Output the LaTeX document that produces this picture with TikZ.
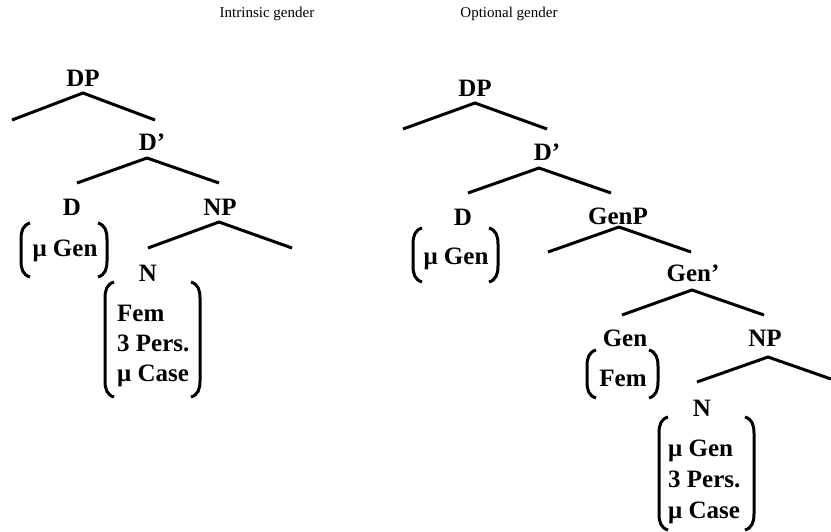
\documentclass[tikz,border=0pt]{standalone}
\usepackage{fontspec}
\setmainfont{Liberation Serif}
\tikzset{
  cat/.style={
    font=\bfseries\fontsize{25}{30}\selectfont,
    inner sep=0pt
  },
  feat/.style={
    font=\bfseries\fontsize{25}{30}\selectfont,
    inner sep=0pt,
    align=left,
    anchor=north west
  },
  titulo/.style={
    font=\fontsize{15}{18}\selectfont,
    inner sep=0pt
  },
  rama/.style={line width=3pt},
  brack/.style={line width=3pt}
}
% brackets round a feature list: left x, right x, top y, bottom y
\newcommand{\fbracket}[4]{%
  \draw[brack] (#1+9,#3) .. controls (#1+2,#3+2) and (#1,#3+8) .. (#1,#3+16)
    -- (#1,#4-16) .. controls (#1,#4-8) and (#1+2,#4-2) .. (#1+9,#4);
  \draw[brack] (#2-9,#3) .. controls (#2-2,#3+2) and (#2,#3+8) .. (#2,#3+16)
    -- (#2,#4-16) .. controls (#2,#4-8) and (#2-2,#4-2) .. (#2-9,#4);
}
\begin{document}
\begin{tikzpicture}[x=1pt,y=-1pt]
\useasboundingbox (0,0) rectangle (831,531);
\node[titulo] (t1) at (267,14) {Intrinsic gender};
\node[titulo] (t2) at (509,14) {Optional gender};

% intrinsic gender
\node[cat] (dp1) at (83,78) {DP};
\coordinate (dp1a) at (83,93);
\coordinate (dp1l) at (12,120);
\coordinate (dp1r) at (155,120);
\draw[rama] (dp1l) -- (dp1a) -- (dp1r);
\node[cat] (db1) at (152,142) {D’};
\coordinate (db1a) at (147,158);
\coordinate (db1l) at (77,183);
\coordinate (db1r) at (219,183);
\draw[rama] (db1l) -- (db1a) -- (db1r);
\node[cat] (d1) at (72,207) {D};
\node[cat] (d1f) at (65,251) {μ Gen};
\fbracket{21}{107}{223}{277}
\node[cat] (np1) at (220,207) {NP};
\coordinate (np1a) at (219,222);
\coordinate (np1l) at (148,248);
\coordinate (np1r) at (292,248);
\draw[rama] (np1l) -- (np1a) -- (np1r);
\node[cat] (n1) at (148,273) {N};
\node[feat] (n1f) at (117,304.5) {Fem\\3 Pers.\\μ Case};
\fbracket{105}{200}{282}{397}

% optional gender
\node[cat] (dp2) at (475,88) {DP};
\coordinate (dp2a) at (475,103);
\coordinate (dp2l) at (403,129);
\coordinate (dp2r) at (547,129);
\draw[rama] (dp2l) -- (dp2a) -- (dp2r);
\node[cat] (db2) at (547,152) {D’};
\coordinate (db2a) at (539,168);
\coordinate (db2l) at (468,193);
\coordinate (db2r) at (611,193);
\draw[rama] (db2l) -- (db2a) -- (db2r);
\node[cat] (d2) at (463,217) {D};
\node[cat] (d2f) at (456,259) {μ Gen};
\fbracket{413}{498}{228}{282}
\node[cat] (genp) at (618,216) {GenP};
\coordinate (genpa) at (619,227);
\coordinate (genpl) at (548,252);
\coordinate (genpr) at (691,252);
\draw[rama] (genpl) -- (genpa) -- (genpr);
\node[cat] (genb) at (693,273) {Gen’};
\coordinate (genba) at (692,290);
\coordinate (genbl) at (622,315);
\coordinate (genbr) at (764,315);
\draw[rama] (genbl) -- (genba) -- (genbr);
\node[cat] (gen) at (625,338) {Gen};
\node[cat] (genf) at (623,378) {Fem};
\fbracket{587}{658}{350}{398}
\node[cat] (np2) at (765,338) {NP};
\coordinate (np2a) at (768,357);
\coordinate (np2l) at (697,382);
\coordinate (np2r) at (831,379);
\draw[rama] (np2l) -- (np2a) -- (np2r);
\node[cat] (n2) at (702,408) {N};
\node[feat, font=\bfseries\fontsize{25}{31}\selectfont] (n2f) at (668,439.5) {μ Gen\\3 Pers.\\μ Case};
\fbracket{659}{754}{417}{530}
\end{tikzpicture}
\end{document}
